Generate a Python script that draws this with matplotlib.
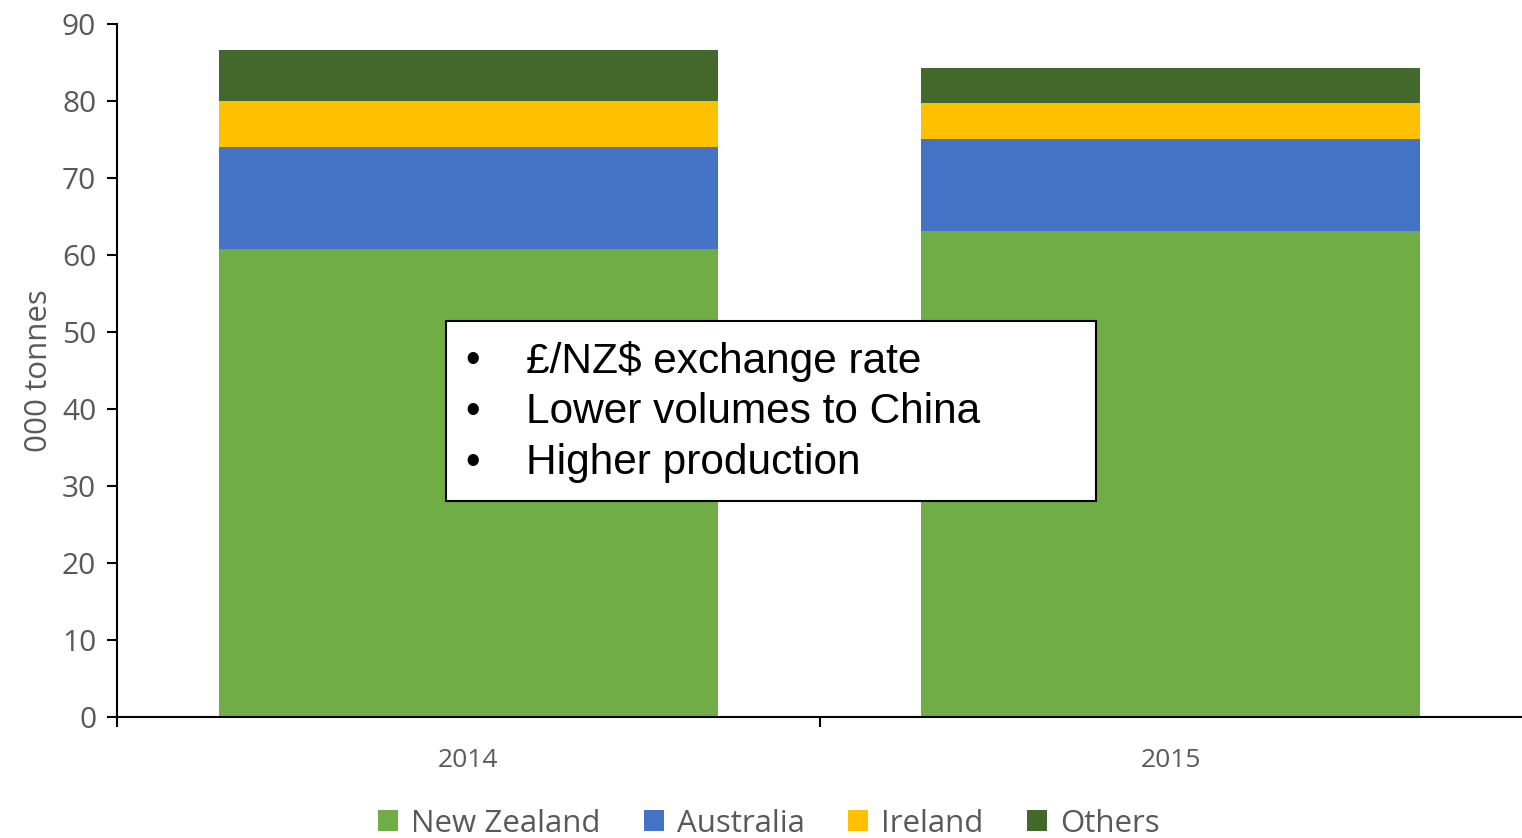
import numpy as np
import matplotlib.pyplot as plt
from matplotlib.patches import Rectangle, Patch

# values, '000 tonnes
years = ['2014', '2015']
series = ['New Zealand', 'Australia', 'Ireland', 'Others']
new_zealand = [60.8, 63.1]
australia = [13.2, 12.0]
ireland = [6.0, 4.6]
others = [6.6, 4.6]
colors = ['#70AD47', '#4472C4', '#FFC000', '#43682B']
notes = ['£/NZ$ exchange rate', 'Lower volumes to China', 'Higher production']

grey = '#595959'
plt.rcParams['font.family'] = ['Open Sans', 'DejaVu Sans']

fig = plt.figure(figsize=(15.22, 8.38), dpi=100)
ax = fig.add_axes([0.0769, 0.1444, 0.9231, 0.827])

x = np.arange(len(years))
bottom = np.zeros(len(years))
for vals, c in zip([new_zealand, australia, ireland, others], colors):
    ax.bar(x, vals, width=0.71, bottom=bottom, color=c, zorder=2)
    bottom += np.array(vals)

ax.set_ylim(0, 90)
ax.set_xlim(-0.5, 1.5)
ax.set_yticks(range(0, 91, 10))
ax.set_xticks([-0.5, 0.5])
ax.set_xticklabels([])
ax.set_xticks(x, minor=True)
ax.set_xticklabels(years, minor=True)
ax.tick_params(axis='x', which='minor', length=0, pad=22, labelsize=19, labelcolor=grey)
ax.tick_params(axis='x', which='major', length=7, width=1.5, direction='out')
ax.tick_params(axis='y', length=7, width=1.5, labelsize=21.5, labelcolor=grey, pad=8)
for s in ['top', 'right']:
    ax.spines[s].set_visible(False)
ax.spines['left'].set_linewidth(1.5)
ax.spines['bottom'].set_linewidth(1.5)
ax.set_ylabel('000 tonnes', fontsize=22.5, color=grey, labelpad=6)

# annotation box
fig.patches.append(Rectangle((446 / 1522, 1 - 501 / 838), 650 / 1522, 180 / 838,
                             transform=fig.transFigure, facecolor='white',
                             edgecolor='black', linewidth=1.5, zorder=5))
for i, t in enumerate(notes):
    yy = 1 - (361 + 51 * i) / 838
    fig.text(473 / 1522, yy, '•', fontsize=30, family='Liberation Sans',
             ha='center', va='center', zorder=6)
    fig.text(526 / 1522, yy, t, fontsize=30.5, family='Liberation Sans',
             ha='left', va='center', zorder=6)

handles = [Patch(facecolor=c, label=s) for s, c in zip(series, colors)]
fig.legend(handles=handles, loc='center', bbox_to_anchor=(0.505, 0.017), ncol=4,
           frameon=False, fontsize=22.5, labelcolor=grey, handlelength=0.65,
           handleheight=0.65, handletextpad=0.4, columnspacing=1.4)

fig.savefig('out.png', dpi=100)
